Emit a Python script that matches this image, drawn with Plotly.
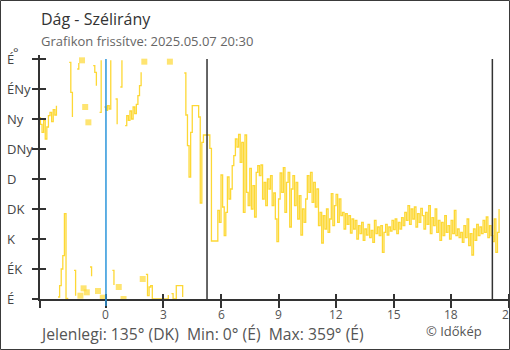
import plotly.graph_objects as go

# ---------------- data ----------------
start_hour = -3.5          # first sample, hours relative to midnight
step_minutes = 5
wind_dir = [
    272, 262, 250, 268, 240, 258, 275, 280, 266, 284, 276, 290,
    3, 20, 45, 65, 128, 0, 2, 355, 310, 273, 43, 5,
    345, 354, 5, 358, 16, 288, 10, 265, 48, 34, 350, 340,
    320, 12, 280, 358, 2, 288, 283, 290, 285, 358, 43, 21,
    300, 262, 18, 318, 358, 0, 260, 275, 268, 282, 270, 288,
    278, 292, 305, 320, 340, 30, 356, 37, 5, 18, 20, 0,
    0, 0, 0, 0, 0, 0, 0, 0, 0, 6, 356, 8,
    0, 0, 20, 20, 20, 20, 3, 339, 276, 230, 183, 250,
    290, 290, 290, 290, 273, 144, 235, 246, 246, 246, 246, 226,
    87, 87, 87, 87, 133, 115, 186, 138, 95, 130, 183, 150,
    165, 200, 215, 240, 228, 247, 205, 235, 130, 246, 160, 140,
    196, 135, 170, 123, 190, 200, 185, 201, 150, 175, 140, 180,
    165, 185, 140, 159, 120, 86, 150, 189, 160, 197, 130, 175,
    190, 108, 165, 185, 140, 175, 120, 155, 96, 135, 115, 150,
    185, 160, 190, 145, 175, 138, 165, 110, 130, 84, 125, 105,
    135, 100, 120, 158, 110, 140, 157, 115, 150, 125, 130, 105,
    128, 112, 125, 99, 120, 105, 118, 90, 110, 98, 115, 88,
    105, 96, 112, 92, 103, 85, 118, 98, 108, 95, 110, 70,
    100, 112, 96, 108, 102, 118, 104, 120, 98, 115, 105, 122,
    110, 130, 118, 140, 112, 135, 120, 138, 108, 128, 115, 136,
    125, 105, 130, 112, 140, 98, 122, 110, 135, 100, 118, 88,
    115, 95, 125, 100, 110, 90, 118, 98, 133, 95, 105, 92,
    100, 85, 110, 92, 120, 80, 98, 66, 105, 88, 112, 95,
    108, 98, 118, 100, 123, 92, 110, 95, 86, 120, 70, 100, 135,
]
dir_ticks = [0, 45, 90, 135, 180, 225, 270, 315, 360]
dir_labels = ["É", "ÉK", "K", "DK", "D", "DNy", "Ny", "ÉNy", "É"]
hour_ticks = [0, 3, 6, 9, 12, 15, 18, 21]
hour_labels = ["0", "3", "6", "9", "12", "15", "18", "21"]
midnight = 0.0
sunrise = 5.27
sunset = 20.15
x_range = [-3.44, 21.07]
y_range = [0, 366]

title = "Dág - Szélirány"
subtitle = "Grafikon frissítve: 2025.05.07 20:30"
footer = "Jelenlegi: 135° (DK)  Min: 0° (É)  Max: 359° (É)"
credit = "© Időkép"

# ---------------- layout geometry ----------------
W, H = 510, 350
L, R, T, B = 40, 0, 55, 51
PW, PH = W - L - R, H - T - B
def px(xp): return (xp - L) / PW
def py(yp): return (H - B - yp) / PH

FONT = "Open Sans"
YELLOW = "#fdd835"
DARK = "#333333"

# split series where it wraps across north
hours = [start_hour + i * step_minutes / 60 for i in range(len(wind_dir))]
xs, ys = [], []
for i, (h, v) in enumerate(zip(hours, wind_dir)):
    if i > 0 and abs(v - wind_dir[i - 1]) > 180:
        xs.append(None); ys.append(None)
    xs.append(h); ys.append(v)
msize = []
for i in range(len(xs)):
    if ys[i] is None:
        msize.append(0); continue
    prev_none = i == 0 or ys[i - 1] is None
    next_none = i == len(xs) - 1 or ys[i + 1] is None
    msize.append(6 if (prev_none and next_none) else 0)

fig = go.Figure()
fig.add_trace(go.Scatter(
    x=xs, y=ys, mode="lines+markers", line=dict(color=YELLOW, width=1.3, shape="hv"),
    marker=dict(symbol="square", size=msize, color=YELLOW, line=dict(width=0)),
    connectgaps=False, showlegend=False, hoverinfo="skip"))
fig.add_trace(go.Scatter(x=[None], y=[None], xaxis="x2", yaxis="y2",
                         showlegend=False, hoverinfo="skip"))

tickv = [x_range[0]] + hour_ticks
axis_common = dict(showgrid=False, zeroline=False, fixedrange=True)
fig.update_layout(
    width=W, height=H, margin=dict(l=L, r=R, t=T, b=B),
    paper_bgcolor="white", plot_bgcolor="white",
    font=dict(family=FONT, color="#555555"),
    xaxis=dict(range=x_range, tickmode="array", tickvals=tickv,
               ticks="outside", ticklen=7, tickwidth=1.5, tickcolor=DARK,
               showticklabels=False,
               showline=True, linecolor=DARK, linewidth=1.5, **axis_common),
    xaxis2=dict(range=x_range, overlaying="x", anchor="y2", tickmode="array",
                tickvals=tickv, ticks="inside", ticklen=5, tickwidth=1.5,
                tickcolor=DARK, showticklabels=False, showline=False, **axis_common),
    yaxis=dict(range=y_range, tickmode="array", tickvals=dir_ticks,
               ticks="outside", ticklen=6, tickwidth=1.5, tickcolor=DARK,
               showticklabels=False, showline=True, linecolor=DARK, linewidth=1.5,
               **axis_common),
    yaxis2=dict(range=y_range, overlaying="y", anchor="x2", side="left",
                tickmode="array", tickvals=dir_ticks, ticks="inside", ticklen=6,
                tickwidth=1.5, tickcolor=DARK, showticklabels=False, showline=False,
                **axis_common),
)

shapes = []
for t in (sunrise, sunset):
    shapes.append(dict(type="line", xref="x", yref="y", x0=t, x1=t, y0=0, y1=360,
                       line=dict(color=DARK, width=1.5), layer="above"))
shapes.append(dict(type="line", xref="x", yref="paper", x0=midnight, x1=midnight,
                   y0=py(306), y1=py(59), line=dict(color="#2b95db", width=1.5),
                   layer="above"))
shapes.append(dict(type="rect", xref="paper", yref="paper",
                   x0=px(0.5), x1=px(509.5), y0=py(349.5), y1=py(0.5),
                   line=dict(color="#3a3a3a", width=1), layer="above"))
fig.update_layout(shapes=shapes)

ann = []
for v, lab in zip(dir_ticks, dir_labels):
    ann.append(dict(text=lab, xref="paper", yref="y", x=px(5), y=v,
                    xanchor="left", yanchor="middle", showarrow=False,
                    font=dict(size=13, color="#444444", family=FONT)))
for v, lab in zip(hour_ticks, hour_labels):
    ann.append(dict(text=lab, xref="x", yref="paper", x=v, y=py(314.5),
                    xanchor="center", yanchor="middle", showarrow=False, borderpad=0,
                    font=dict(size=12, color="#555555", family=FONT)))
ann.append(dict(text="°", xref="paper", yref="paper", x=px(11), y=py(52),
                xanchor="left", yanchor="middle", showarrow=False,
                font=dict(size=13, color="#444444", family=FONT)))
ann.append(dict(text=title, xref="paper", yref="paper", x=px(39), y=py(19),
                xanchor="left", yanchor="middle", showarrow=False,
                font=dict(size=16, color="#333333", family=FONT)))
ann.append(dict(text=subtitle, xref="paper", yref="paper", x=px(39), y=py(41),
                xanchor="left", yanchor="middle", showarrow=False,
                font=dict(size=13, color="#666666", family=FONT)))
ann.append(dict(text=footer, xref="paper", yref="paper", x=px(39), y=py(334),
                xanchor="left", yanchor="middle", showarrow=False, borderpad=0,
                font=dict(size=15.7, color="#555555", family=FONT)))
ann.append(dict(text=credit, xref="paper", yref="paper", x=px(424), y=py(331),
                xanchor="left", yanchor="middle", showarrow=False,
                font=dict(size=13, color="#555555", family=FONT)))
fig.update_layout(annotations=ann)

fig.write_html("out.html")
